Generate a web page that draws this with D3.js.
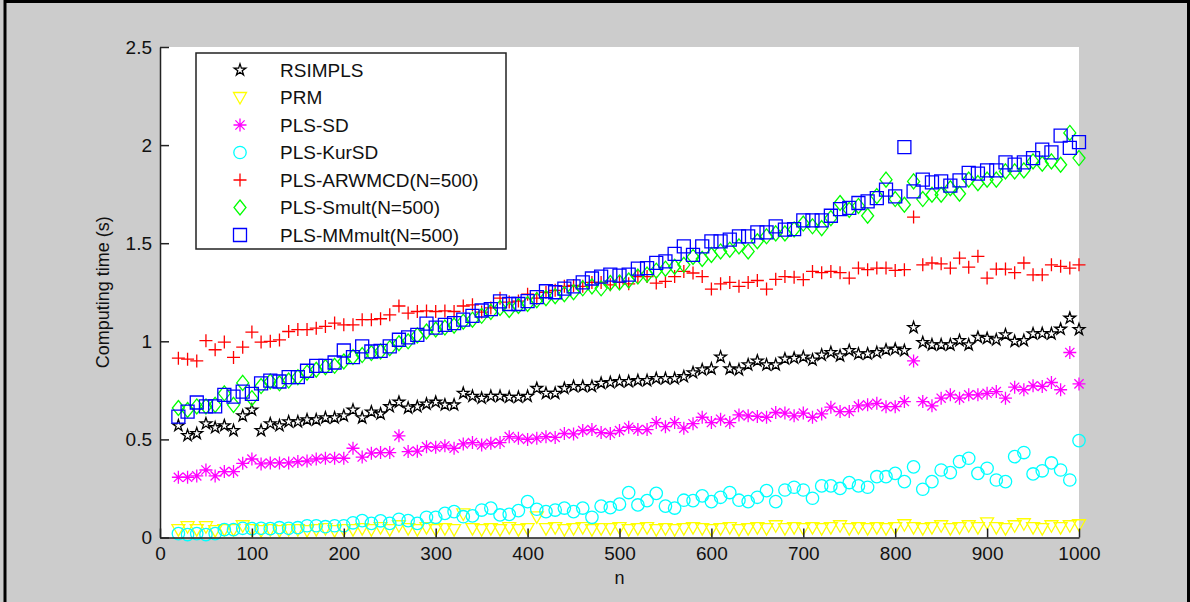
<!DOCTYPE html>
<html>
<head>
<meta charset="utf-8">
<script src="https://cdn.jsdelivr.net/npm/d3@7"></script>
<style>
  body { margin: 0; background: #cccccc; }
  svg { display: block; font-family: "Liberation Sans", Arial, sans-serif; }
</style>
</head>
<body>
<svg id="chart"></svg>
<script>
// n = 20, 30, ..., 1000
const nValues = d3.range(20, 1001, 10);

const xTicks = [0, 100, 200, 300, 400, 500, 600, 700, 800, 900, 1000];
const yTicks = [0, 0.5, 1, 1.5, 2, 2.5];

const seriesNames = ['RSIMPLS', 'PRM', 'PLS-SD', 'PLS-KurSD', 'PLS-ARWMCD(N=500)', 'PLS-Smult(N=500)', 'PLS-MMmult(N=500)'];

const rsimpls = [
  0.57, 0.52, 0.53, 0.58, 0.56, 0.57, 0.545, 0.62, 0.65,
  0.545, 0.58, 0.57, 0.59, 0.59, 0.60, 0.60, 0.61, 0.61, 0.62,
  0.65, 0.61, 0.64, 0.63, 0.667, 0.69, 0.66, 0.667, 0.68, 0.69,
  0.676, 0.676, 0.735, 0.72, 0.71, 0.72, 0.72, 0.715, 0.715, 0.72,
  0.76, 0.735, 0.735, 0.76, 0.77, 0.77, 0.77, 0.786, 0.79, 0.795,
  0.795, 0.80, 0.80, 0.81, 0.81, 0.81, 0.82, 0.84, 0.855, 0.86,
  0.92, 0.86, 0.855, 0.88, 0.90, 0.88, 0.88, 0.91, 0.914, 0.92,
  0.905, 0.93, 0.943, 0.926, 0.953, 0.936, 0.936, 0.943, 0.956, 0.96,
  0.953, 1.07, 0.994, 0.982, 0.982, 0.982, 1.004, 0.982, 1.02, 1.015,
  1.008, 1.033, 1.0, 1.004, 1.038, 1.04, 1.038, 1.062, 1.118, 1.06
];

const prm = [
  0.04, 0.055, 0.04, 0.055, 0.035, 0.04, 0.04, 0.06, 0.04,
  0.035, 0.04, 0.035, 0.04, 0.04, 0.035, 0.04, 0.045, 0.035, 0.04,
  0.04, 0.045, 0.04, 0.05, 0.04, 0.06, 0.045, 0.04, 0.05, 0.04,
  0.045, 0.04, 0.12, 0.045, 0.04, 0.045, 0.04, 0.05, 0.04, 0.045,
  0.105, 0.045, 0.05, 0.04, 0.045, 0.05, 0.04, 0.045, 0.045, 0.05,
  0.04, 0.045, 0.05, 0.04, 0.045, 0.04, 0.045, 0.05, 0.045, 0.04,
  0.045, 0.05, 0.04, 0.045, 0.05, 0.045, 0.06, 0.045, 0.05, 0.045,
  0.05, 0.045, 0.05, 0.06, 0.045, 0.05, 0.045, 0.05, 0.045, 0.05,
  0.065, 0.05, 0.045, 0.05, 0.06, 0.045, 0.05, 0.06, 0.05, 0.075,
  0.05, 0.045, 0.06, 0.07, 0.05, 0.045, 0.06, 0.05, 0.06, 0.065
];

const plsSd = [
  0.307, 0.307, 0.314, 0.344, 0.314, 0.336, 0.336, 0.378, 0.40,
  0.375, 0.38, 0.38, 0.38, 0.387, 0.39, 0.40, 0.404, 0.404, 0.404,
  0.455, 0.41, 0.43, 0.433, 0.433, 0.518, 0.438, 0.44, 0.463, 0.46,
  0.467, 0.455, 0.477, 0.484, 0.472, 0.48, 0.484, 0.514, 0.506, 0.50,
  0.506, 0.514, 0.51, 0.53, 0.528, 0.545, 0.55, 0.535, 0.53, 0.545,
  0.562, 0.55, 0.55, 0.586, 0.565, 0.586, 0.557, 0.58, 0.613, 0.586,
  0.603, 0.586, 0.625, 0.62, 0.617, 0.613, 0.637, 0.634, 0.62, 0.634,
  0.613, 0.63, 0.664, 0.642, 0.642, 0.671, 0.676, 0.684, 0.667, 0.667,
  0.693, 0.90, 0.693, 0.671, 0.71, 0.727, 0.71, 0.727, 0.727, 0.735,
  0.744, 0.71, 0.766, 0.753, 0.773, 0.77, 0.79, 0.753, 0.943, 0.783
];

const plsKurSd = [
  0.02, 0.015, 0.02, 0.015, 0.02, 0.04, 0.04, 0.047, 0.045,
  0.047, 0.045, 0.05, 0.047, 0.05, 0.06, 0.06, 0.055, 0.06, 0.06,
  0.075, 0.086, 0.072, 0.085, 0.072, 0.093, 0.086, 0.072, 0.103, 0.103,
  0.123, 0.132, 0.106, 0.11, 0.14, 0.15, 0.115, 0.118, 0.137, 0.183,
  0.144, 0.132, 0.14, 0.15, 0.132, 0.15, 0.103, 0.16, 0.152, 0.17,
  0.229, 0.166, 0.188, 0.225, 0.16, 0.15, 0.19, 0.188, 0.212, 0.183,
  0.205, 0.229, 0.19, 0.183, 0.205, 0.239, 0.183, 0.242, 0.256, 0.242,
  0.20, 0.263, 0.263, 0.25, 0.28, 0.263, 0.256, 0.31, 0.31, 0.327,
  0.285, 0.36, 0.246, 0.285, 0.344, 0.331, 0.387, 0.404, 0.327, 0.353,
  0.293, 0.285, 0.412, 0.433, 0.324, 0.34, 0.38, 0.344, 0.293, 0.494
];

const plsArwmcd = [
  0.914, 0.909, 0.90, 1.003, 0.957, 0.996, 0.918, 0.97, 1.047,
  0.996, 1.0, 1.007, 1.05, 1.06, 1.06, 1.067, 1.076, 1.093, 1.084,
  1.084, 1.11, 1.11, 1.115, 1.135, 1.18, 1.144, 1.152, 1.155, 1.152,
  1.155, 1.152, 1.18, 1.186, 1.149, 1.17, 1.22, 1.2, 1.205, 1.24,
  1.22, 1.25, 1.26, 1.28, 1.285, 1.28, 1.30, 1.30, 1.288, 1.30,
  1.293, 1.33, 1.33, 1.297, 1.305, 1.33, 1.356, 1.348, 1.33, 1.266,
  1.293, 1.30, 1.28, 1.30, 1.31, 1.266, 1.316, 1.33, 1.327, 1.314,
  1.356, 1.35, 1.356, 1.35, 1.322, 1.373, 1.365, 1.373, 1.373, 1.361,
  1.365, 1.633, 1.39, 1.399, 1.395, 1.373, 1.424, 1.378, 1.433, 1.322,
  1.368, 1.368, 1.35, 1.399, 1.339, 1.339, 1.39, 1.382, 1.373, 1.39
];

const plsSmult = [
  0.66, 0.65, 0.668, 0.668, 0.676, 0.735, 0.676, 0.788, 0.71,
  0.772, 0.795, 0.786, 0.80, 0.817, 0.84, 0.855, 0.868, 0.875, 0.897,
  0.92, 0.93, 0.94, 0.948, 0.965, 0.99, 1.0, 1.03, 1.05, 1.06,
  1.07, 1.08, 1.10, 1.11, 1.13, 1.15, 1.17, 1.16, 1.18, 1.19,
  1.21, 1.22, 1.23, 1.24, 1.25, 1.27, 1.28, 1.27, 1.297, 1.30,
  1.31, 1.33, 1.34, 1.36, 1.37, 1.38, 1.39, 1.43, 1.42, 1.44,
  1.458, 1.467, 1.484, 1.458, 1.51, 1.535, 1.55, 1.55, 1.57, 1.60,
  1.586, 1.577, 1.628, 1.705, 1.67, 1.69, 1.64, 1.74, 1.824, 1.725,
  1.696, 1.815, 1.725, 1.747, 1.747, 1.78, 1.752, 1.824, 1.806, 1.824,
  1.824, 1.866, 1.866, 1.871, 1.917, 1.905, 1.917, 1.90, 2.062, 1.934
];

const plsMMmult = [
  0.616, 0.642, 0.688, 0.668, 0.668, 0.727, 0.718, 0.744, 0.732,
  0.786, 0.80, 0.795, 0.817, 0.817, 0.85, 0.875, 0.875, 0.892, 0.953,
  0.919, 0.974, 0.948, 0.951, 0.974, 1.008, 1.02, 1.033, 1.09, 1.07,
  1.084, 1.093, 1.11, 1.13, 1.157, 1.164, 1.203, 1.19, 1.19, 1.205,
  1.225, 1.255, 1.25, 1.268, 1.28, 1.30, 1.32, 1.33, 1.34, 1.335,
  1.34, 1.37, 1.373, 1.40, 1.407, 1.446, 1.484, 1.441, 1.484, 1.509,
  1.509, 1.518, 1.535, 1.535, 1.555, 1.555, 1.586, 1.569, 1.572, 1.616,
  1.616, 1.616, 1.64, 1.674, 1.68, 1.705, 1.713, 1.73, 1.773, 1.739,
  1.99, 1.764, 1.824, 1.81, 1.815, 1.793, 1.82, 1.858, 1.855, 1.871,
  1.871, 1.912, 1.90, 1.912, 1.934, 1.977, 1.963, 2.048, 1.986, 2.015
];

const seriesValues = [rsimpls, prm, plsSd, plsKurSd, plsArwmcd, plsSmult, plsMMmult];
const seriesColors = ['#000000', '#ffff00', '#ff00ff', '#00ffff', '#ff0000', '#00ff00', '#0000ff'];
const seriesMarkers = ['star', 'triangleDown', 'asterisk', 'circle', 'plus', 'diamond', 'square'];

// marker shapes, centred on 0,0
const markerPath = {
  star: d3.symbol(d3.symbolStar, 42)(),
  triangleDown: 'M-6.5,-5L6.5,-5L0,6.5Z',
  asterisk: 'M-6.5,0H6.5M0,-6.5V6.5M-4.6,-4.6L4.6,4.6M-4.6,4.6L4.6,-4.6',
  circle: d3.symbol(d3.symbolCircle, Math.PI * 6.2 * 6.2)(),
  plus: 'M-6.5,0H6.5M0,-6.5V6.5',
  diamond: 'M0,-7.5L6,0L0,7.5L-6,0Z',
  square: 'M-6.5,-6.5H6.5V6.5H-6.5Z'
};

const width = 1190, height = 602;
const svg = d3.select('#chart').attr('width', width).attr('height', height);

// figure frame
svg.append('rect')
  .attr('x', 5).attr('y', 1.5)
  .attr('width', 1183.5).attr('height', 640)
  .attr('fill', '#cccccc')
  .attr('stroke', '#000').attr('stroke-width', 3);

const plot = {left: 160, right: 1079, top: 47, bottom: 537.5};

const x = d3.scaleLinear().domain([0, 1000]).range([plot.left, plot.right]);
const y = d3.scaleLinear().domain([0, 2.5]).range([plot.bottom, plot.top]);

svg.append('rect')
  .attr('x', plot.left).attr('y', plot.top)
  .attr('width', plot.right - plot.left).attr('height', plot.bottom - plot.top)
  .attr('fill', '#fff');

// data points
const marks = svg.append('g');
seriesValues.forEach((vals, i) => {
  marks.append('g')
    .selectAll('path')
    .data(vals.map((v, j) => ({n: nValues[j], v: v})))
    .join('path')
    .attr('transform', d => `translate(${x(d.n)},${y(d.v)})`)
    .attr('d', markerPath[seriesMarkers[i]])
    .attr('fill', 'none')
    .attr('stroke', seriesColors[i])
    .attr('stroke-width', 1.3);
});

// axes (ticks point inwards)
const xAxis = d3.axisBottom(x).tickValues(xTicks).tickSizeInner(-9).tickSizeOuter(0).tickPadding(9)
  .tickFormat(d3.format('d'));
const yAxis = d3.axisLeft(y).tickValues(yTicks).tickSizeInner(-9).tickSizeOuter(0).tickPadding(8)
  .tickFormat(d3.format('~g'));

const gx = svg.append('g').attr('transform', `translate(0,${plot.bottom})`).call(xAxis);
const gy = svg.append('g').attr('transform', `translate(${plot.left},0)`).call(yAxis);

[gx, gy].forEach(g => {
  g.select('.domain').attr('stroke', '#222').attr('stroke-width', 1.5);
  g.selectAll('.tick line').attr('stroke', '#222').attr('stroke-width', 1.5);
  g.selectAll('.tick text')
    .attr('fill', '#111')
    .style('font-size', '19px')
    .style('font-family', '"Liberation Sans", Arial, sans-serif');
});

// axis labels
svg.append('text')
  .attr('x', (plot.left + plot.right) / 2)
  .attr('y', 584)
  .attr('text-anchor', 'middle')
  .style('font-size', '18px')
  .attr('fill', '#111')
  .text('n');

svg.append('text')
  .attr('transform', `translate(109,${(plot.top + plot.bottom) / 2}) rotate(-90)`)
  .attr('text-anchor', 'middle')
  .style('font-size', '18px')
  .attr('fill', '#111')
  .text('Computing time (s)');

// legend
const legend = svg.append('g');
legend.append('rect')
  .attr('x', 196).attr('y', 53)
  .attr('width', 310).attr('height', 196)
  .attr('fill', '#fff')
  .attr('stroke', '#222').attr('stroke-width', 1.5);

const rowY = d3.scaleLinear().domain([0, seriesNames.length - 1]).range([70, 235]);

seriesNames.forEach((name, i) => {
  legend.append('path')
    .attr('transform', `translate(240,${rowY(i)})`)
    .attr('d', markerPath[seriesMarkers[i]])
    .attr('fill', 'none')
    .attr('stroke', seriesColors[i])
    .attr('stroke-width', 1.3);
  legend.append('text')
    .attr('x', 280)
    .attr('y', rowY(i))
    .attr('dy', '0.35em')
    .style('font-size', '19px')
    .attr('fill', '#111')
    .text(name);
});
</script>
</body>
</html>
